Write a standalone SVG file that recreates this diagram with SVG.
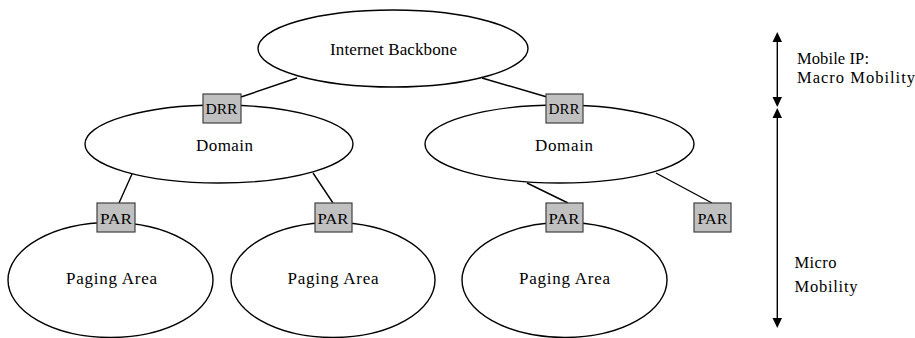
<svg xmlns="http://www.w3.org/2000/svg" width="915" height="338" viewBox="0 0 915 338">
<style>
.e{fill:#fff;stroke:#000;stroke-width:1.4}
.b{fill:#c0c0c0;stroke:#404040;stroke-width:1.2}
.l{stroke:#000;stroke-width:1.4;fill:none}
.t{font-size:17px;text-anchor:middle}
.s{font-size:15.5px;text-anchor:middle}
.r{font-size:16.5px}
</style>
<rect width="915" height="338" fill="#fff"/>
<g id="connectors">
<line class="l" x1="241" y1="97" x2="297" y2="78"/>
<line class="l" x1="482" y1="78" x2="547" y2="97"/>
<line class="l" x1="132" y1="174" x2="119" y2="203"/>
<line class="l" x1="313" y1="173" x2="333" y2="203"/>
<line class="l" x1="527" y1="183" x2="568" y2="203"/>
<line class="l" x1="656" y1="173" x2="712" y2="203"/>
</g>
<g font-family="'Liberation Serif', 'Times New Roman', serif" fill="#000">
<g id="backbone"><ellipse class="e" cx="393" cy="48.5" rx="135" ry="38.5"/><text class="t" x="393.5" y="55" textLength="127" lengthAdjust="spacing">Internet Backbone</text></g>
<g id="domain1"><ellipse class="e" cx="219" cy="144" rx="134" ry="39"/><text class="t" x="224.5" y="150.5" textLength="57" lengthAdjust="spacing">Domain</text></g>
<g id="domain2"><ellipse class="e" cx="559.5" cy="144" rx="134.5" ry="39"/><text class="t" x="564" y="150.5" textLength="58" lengthAdjust="spacing">Domain</text></g>
<g id="paging1"><ellipse class="e" cx="110.5" cy="280" rx="102.5" ry="57.5"/><text class="t" x="111.5" y="284" textLength="91" lengthAdjust="spacing">Paging Area</text></g>
<g id="paging2"><ellipse class="e" cx="333" cy="280" rx="102" ry="57.5"/><text class="t" x="333" y="284" textLength="91" lengthAdjust="spacing">Paging Area</text></g>
<g id="paging3"><ellipse class="e" cx="564.5" cy="280" rx="102.5" ry="57.5"/><text class="t" x="564.5" y="284" textLength="91" lengthAdjust="spacing">Paging Area</text></g>
<g id="drr1"><rect class="b" x="203" y="94" width="38" height="29"/><text class="s" x="221.5" y="114" textLength="32" lengthAdjust="spacingAndGlyphs">DRR</text></g>
<g id="drr2"><rect class="b" x="546" y="94" width="37" height="29"/><text class="s" x="564" y="114" textLength="31" lengthAdjust="spacingAndGlyphs">DRR</text></g>
<g id="par1"><rect class="b" x="97" y="203" width="38" height="29"/><text class="s" x="116" y="224" textLength="32" lengthAdjust="spacingAndGlyphs">PAR</text></g>
<g id="par2"><rect class="b" x="315" y="203" width="37" height="29"/><text class="s" x="333" y="224" textLength="31" lengthAdjust="spacingAndGlyphs">PAR</text></g>
<g id="par3"><rect class="b" x="546" y="203" width="37" height="29"/><text class="s" x="564" y="224" textLength="31" lengthAdjust="spacingAndGlyphs">PAR</text></g>
<g id="par4"><rect class="b" x="694" y="203" width="37" height="29"/><text class="s" x="712.5" y="224" textLength="30" lengthAdjust="spacingAndGlyphs">PAR</text></g>
<g id="scale-macro">
<line class="l" x1="777.3" y1="38" x2="777.3" y2="100"/>
<polygon points="777.3,32 772.5,42 782,42" fill="#000"/>
<polygon points="777.3,107 772.5,97 782,97" fill="#000"/>
<text class="r" x="797" y="64" textLength="72" lengthAdjust="spacing">Mobile IP:</text>
<text class="r" x="797" y="83" textLength="118" lengthAdjust="spacing">Macro Mobility</text>
</g>
<g id="scale-micro">
<line class="l" x1="777.3" y1="114" x2="777.3" y2="322"/>
<polygon points="777.3,108 772.5,118 782,118" fill="#000"/>
<polygon points="777.3,328 772.5,318 782,318" fill="#000"/>
<text class="r" x="794.5" y="268" textLength="42" lengthAdjust="spacing">Micro</text>
<text class="r" x="794.5" y="292" textLength="63" lengthAdjust="spacing">Mobility</text>
</g>
</g>
</svg>
